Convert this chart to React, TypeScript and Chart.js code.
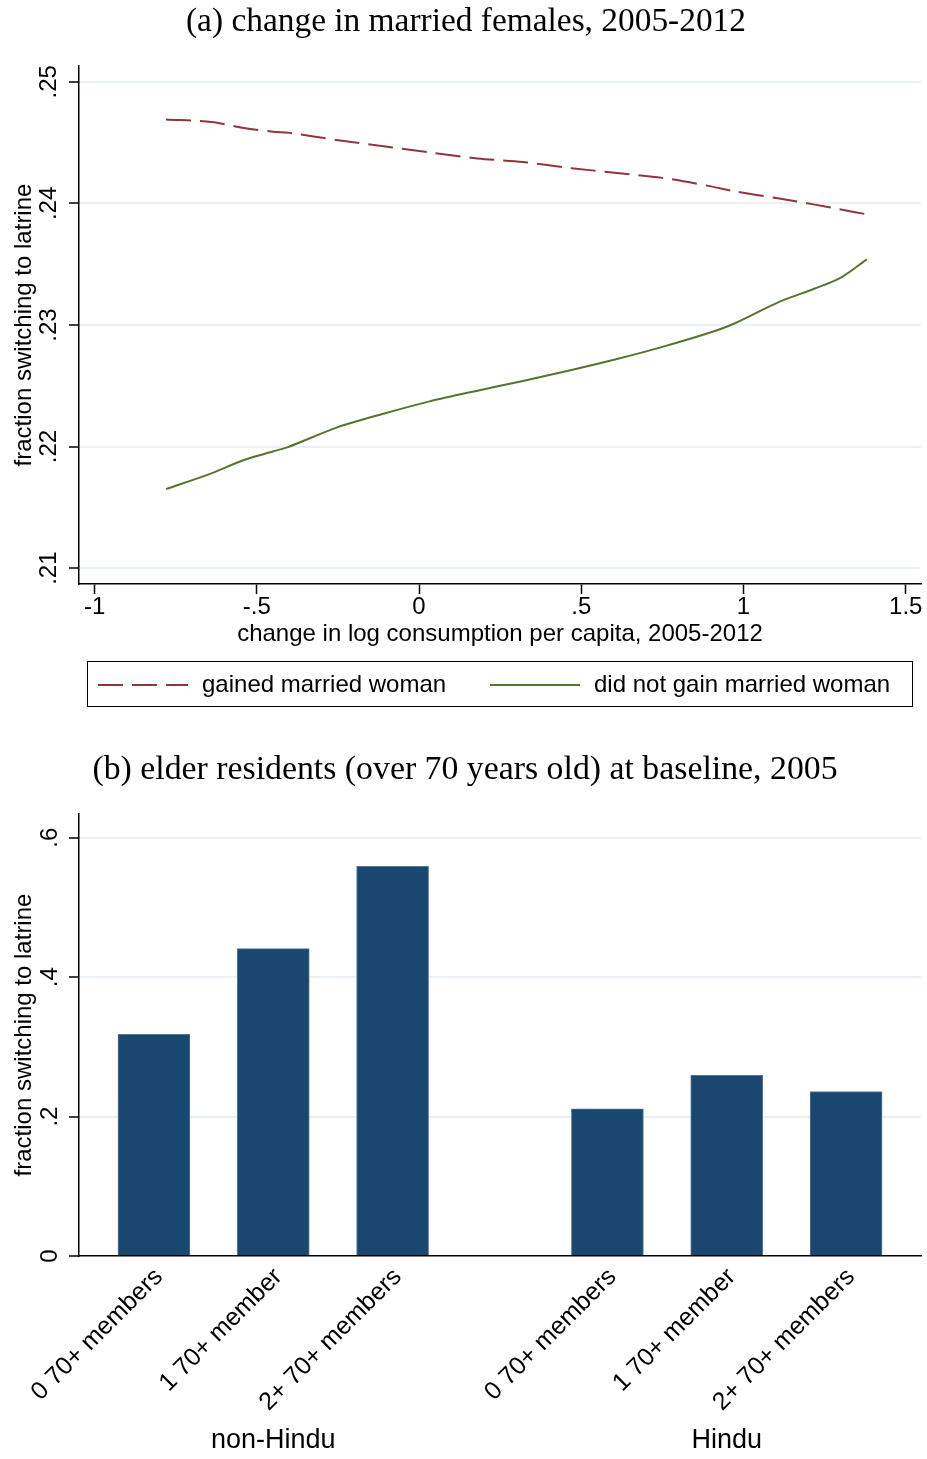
import React, { useEffect, useRef } from 'react';
import { Chart, registerables } from 'chart.js';

Chart.register(...registerables);

// ---------- Panel (a) data ----------
const titleA = '(a) change in married females, 2005-2012';
const xTitleA = 'change in log consumption per capita, 2005-2012';
const yTitle = 'fraction switching to latrine';
const seriesNames = ['gained married woman', 'did not gain married woman'];
const consumptionChange = [-0.78, -0.64, -0.54, -0.45, -0.4, -0.25, -0.11, 0.03, 0.18, 0.32, 0.47, 0.61, 0.75, 0.9, 0.97, 1.11, 1.22, 1.3, 1.38];
const gainedMarried = [0.2469, 0.2467, 0.2462, 0.2459, 0.2458, 0.2452, 0.2447, 0.2442, 0.2437, 0.2434, 0.2429, 0.2425, 0.2421, 0.2414, 0.241, 0.2404, 0.2399, 0.2395, 0.2391];
const notGainedMarried = [0.2165, 0.2178, 0.2189, 0.2196, 0.22, 0.2216, 0.2227, 0.2237, 0.2246, 0.2254, 0.2263, 0.2272, 0.2282, 0.2294, 0.2301, 0.2319, 0.233, 0.2339, 0.2354];
const xTicksA = [-1, -0.5, 0, 0.5, 1, 1.5];
const xTickLabelsA = ['-1', '-.5', '0', '.5', '1', '1.5'];
const yTicksA = [0.21, 0.22, 0.23, 0.24, 0.25];
const yTickLabelsA = ['.21', '.22', '.23', '.24', '.25'];

// ---------- Panel (b) data ----------
const titleB = '(b) elder residents (over 70 years old) at baseline, 2005';
const groups = ['non-Hindu', 'Hindu'];
const categories = ['0 70+ members', '1 70+ member', '2+ 70+ members'];
const nonHinduValues = [0.318, 0.441, 0.559];
const hinduValues = [0.211, 0.259, 0.236];
const yTicksB = [0, 0.2, 0.4, 0.6];
const yTickLabelsB = ['0', '.2', '.4', '.6'];

// ---------- styles ----------
const sans = '"Liberation Sans", Arial, Helvetica, sans-serif';
const serif = '"Liberation Serif", "Times New Roman", serif';
const red = '#90353B';
const green = '#55752F';
const navy = '#1A476F';
const gridColor = '#EAF2F3';
const groupGap = 0.8;

function rotText(ctx: CanvasRenderingContext2D, text: string, x: number, y: number, angle: number, align: CanvasTextAlign) {
  ctx.save();
  ctx.translate(x, y);
  ctx.rotate(angle);
  ctx.textAlign = align;
  ctx.textBaseline = 'middle';
  ctx.fillText(text, 0, 0);
  ctx.restore();
}

export default function App() {
  const refA = useRef<HTMLCanvasElement>(null);
  const refB = useRef<HTMLCanvasElement>(null);

  useEffect(() => {
    const textA = {
      id: 'textA',
      afterDraw(chart: any) {
        const { ctx, chartArea, scales } = chart;
        ctx.save();
        ctx.fillStyle = '#000';
        ctx.font = `33.4px ${serif}`;
        ctx.textAlign = 'center';
        ctx.textBaseline = 'middle';
        ctx.fillText(titleA, 466, 22);
        ctx.font = `24px ${sans}`;
        yTicksA.forEach((v, i) => rotText(ctx, yTickLabelsA[i], 49, scales.y.getPixelForValue(v), -Math.PI / 2, 'center'));
        rotText(ctx, yTitle, 24, (chartArea.top + chartArea.bottom) / 2, -Math.PI / 2, 'center');
        ctx.textAlign = 'center';
        ctx.fillText(xTitleA, (chartArea.left + chartArea.right) / 2, 634);
        // legend
        ctx.lineWidth = 1;
        ctx.strokeStyle = '#000';
        ctx.strokeRect(87.5, 661.5, 825, 45);
        ctx.lineWidth = 2;
        ctx.strokeStyle = red;
        ctx.setLineDash([25, 9]);
        ctx.beginPath();
        ctx.moveTo(98, 685);
        ctx.lineTo(188, 685);
        ctx.stroke();
        ctx.setLineDash([]);
        ctx.strokeStyle = green;
        ctx.beginPath();
        ctx.moveTo(490, 685);
        ctx.lineTo(580, 685);
        ctx.stroke();
        ctx.textAlign = 'left';
        ctx.fillText(seriesNames[0], 202, 685);
        ctx.fillText(seriesNames[1], 594, 685);
        ctx.restore();
      },
    };

    const chartA = new Chart(refA.current!, {
      type: 'line',
      data: {
        datasets: [
          {
            label: seriesNames[0],
            data: consumptionChange.map((x, i) => ({ x, y: gainedMarried[i] })),
            borderColor: red,
            borderWidth: 2,
            borderDash: [25, 9],
            pointRadius: 0,
            tension: 0.3,
            fill: false,
          },
          {
            label: seriesNames[1],
            data: consumptionChange.map((x, i) => ({ x, y: notGainedMarried[i] })),
            borderColor: green,
            borderWidth: 2,
            pointRadius: 0,
            tension: 0.3,
            fill: false,
          },
        ],
      },
      options: {
        animation: false,
        responsive: false,
        layout: { padding: { left: 0, right: 6, top: 66, bottom: 0 } },
        plugins: { legend: { display: false }, tooltip: { enabled: false }, title: { display: false } },
        scales: {
          x: {
            type: 'linear',
            min: -1.048,
            max: 1.547,
            afterFit: (s: any) => { s.height = 136; },
            afterBuildTicks: (s: any) => { s.ticks = xTicksA.map((v) => ({ value: v })); },
            grid: { drawOnChartArea: false, drawTicks: true, tickLength: 10, tickColor: '#000', tickWidth: 1.5 },
            border: { display: true, color: '#000', width: 1.5 },
            ticks: {
              autoSkip: false,
              maxRotation: 0,
              minRotation: 0,
              padding: 1,
              color: '#000',
              font: { family: sans, size: 24, lineHeight: 1 },
              callback: (v: any) => { const i = xTicksA.indexOf(Number(v)); return i >= 0 ? xTickLabelsA[i] : ''; },
            },
          },
          y: {
            type: 'linear',
            min: 0.2087,
            max: 0.2513,
            afterFit: (s: any) => { s.width = 79; },
            afterBuildTicks: (s: any) => { s.ticks = yTicksA.map((v) => ({ value: v })); },
            grid: { color: gridColor, lineWidth: 2, drawTicks: true, tickLength: 10, tickColor: '#000', tickWidth: 1.5 },
            border: { display: true, color: '#000', width: 1.5 },
            ticks: { display: false },
          },
        },
      },
      plugins: [textA],
    });

    const barPoints = [nonHinduValues, hinduValues].flatMap((vals, g) =>
      vals.map((v, c) => ({ x: g * (categories.length + groupGap) + c, y: v }))
    );

    const textB = {
      id: 'textB',
      afterDraw(chart: any) {
        const { ctx, chartArea, scales } = chart;
        ctx.save();
        ctx.fillStyle = '#000';
        ctx.font = `33.8px ${serif}`;
        ctx.textAlign = 'center';
        ctx.textBaseline = 'middle';
        ctx.fillText(titleB, 465, 50);
        ctx.font = `24px ${sans}`;
        yTicksB.forEach((v, i) => rotText(ctx, yTickLabelsB[i], 50, scales.y.getPixelForValue(v), -Math.PI / 2, 'center'));
        rotText(ctx, yTitle, 24, (chartArea.top + chartArea.bottom) / 2, -Math.PI / 2, 'center');
        // category labels, rotated 45 degrees
        ctx.font = `25px ${sans}`;
        barPoints.forEach((p, i) => {
          const px = scales.x.getPixelForValue(p.x);
          rotText(ctx, categories[i % categories.length], px + 5, chartArea.bottom + 17, -Math.PI / 4, 'right');
        });
        // group labels
        ctx.font = `27px ${sans}`;
        ctx.textAlign = 'center';
        groups.forEach((g, gi) => {
          const px = scales.x.getPixelForValue(gi * (categories.length + groupGap) + (categories.length - 1) / 2);
          ctx.fillText(g, px, 721);
        });
        ctx.restore();
      },
    };

    const chartB = new Chart(refB.current!, {
      type: 'bar',
      data: {
        datasets: [
          {
            label: yTitle,
            data: barPoints,
            backgroundColor: navy,
            borderColor: '#55779A',
            borderWidth: 1,
            barThickness: 72,
          },
        ],
      },
      options: {
        animation: false,
        responsive: false,
        layout: { padding: { left: 0, right: 6, top: 94, bottom: 0 } },
        plugins: { legend: { display: false }, tooltip: { enabled: false }, title: { display: false } },
        scales: {
          x: {
            type: 'linear',
            min: -0.628,
            max: 6.428,
            offset: false,
            afterFit: (s: any) => { s.height = 203; },
            grid: { display: false, offset: false },
            border: { display: true, color: '#000', width: 1.5 },
            ticks: { display: false },
          },
          y: {
            type: 'linear',
            min: 0,
            max: 0.634,
            afterFit: (s: any) => { s.width = 79; },
            afterBuildTicks: (s: any) => { s.ticks = yTicksB.map((v) => ({ value: v })); },
            grid: {
              color: (c: any) => (c.tick && c.tick.value === 0 ? 'rgba(0,0,0,0)' : gridColor),
              lineWidth: 2,
              drawTicks: true,
              tickLength: 10,
              tickColor: '#000',
              tickWidth: 1.5,
            },
            border: { display: true, color: '#000', width: 1.5 },
            ticks: { display: false },
          },
        },
      },
      plugins: [textB],
    });

    return () => {
      chartA.destroy();
      chartB.destroy();
    };
  }, []);

  return (
    <div style={{ position: 'absolute', left: 0, top: 0, width: 927, height: 1459, background: '#fff' }}>
      <canvas ref={refA} width={927} height={720} style={{ position: 'absolute', left: 0, top: 0, width: 927, height: 720 }} />
      <canvas ref={refB} width={927} height={739} style={{ position: 'absolute', left: 0, top: 720, width: 927, height: 739 }} />
    </div>
  );
}
